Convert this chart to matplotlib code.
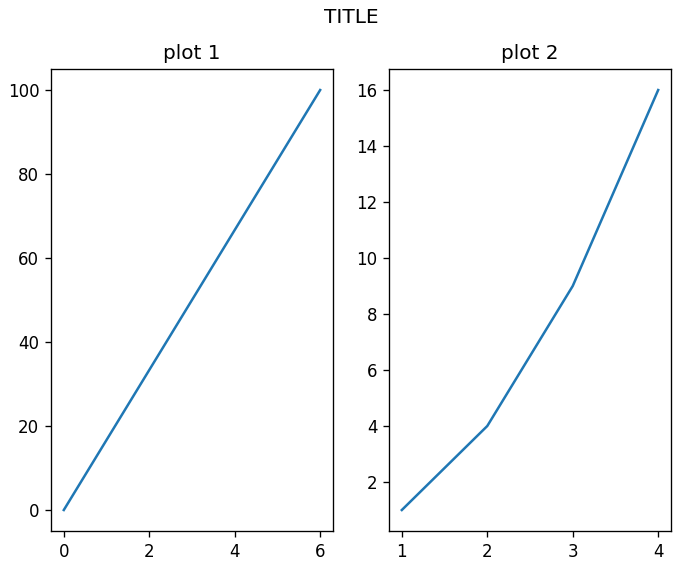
from matplotlib import pyplot as plt

x1 = [0, 6]
y1 = [0, 100]
x2 = [1, 2, 3, 4]
y2 = [1, 4, 9, 16]

fig, (ax1, ax2) = plt.subplots(1, 2, figsize=(676 / 120, 563 / 120), dpi=120)
fig.suptitle("TITLE", x=0.519, y=0.985)

ax1.plot(x1, y1)
ax1.set_title("plot 1")

ax2.plot(x2, y2)
ax2.set_title("plot 2")

plt.subplots_adjust(left=0.0754, right=0.9926, top=0.8774, bottom=0.0568, wspace=0.1986)
plt.savefig("out.png")
